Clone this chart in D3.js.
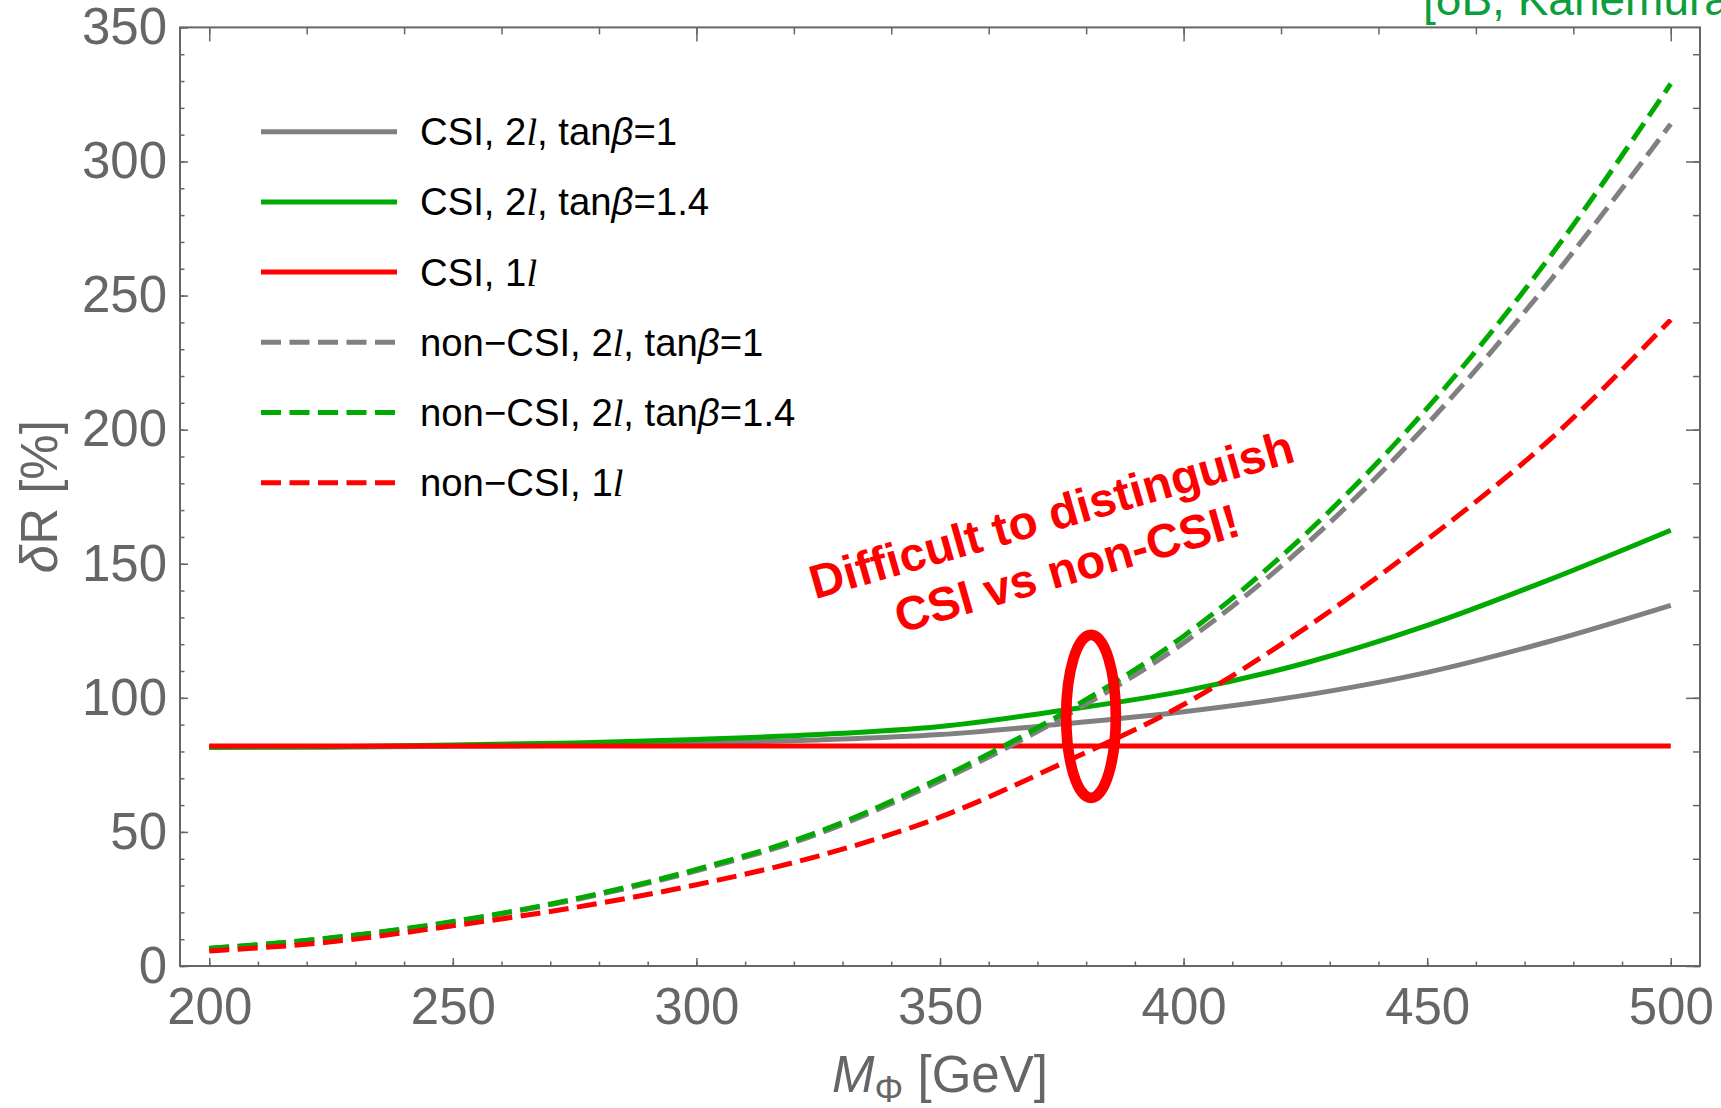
<!DOCTYPE html>
<html>
<head>
<meta charset="utf-8">
<script src="https://cdn.jsdelivr.net/npm/d3@7"></script>
<style>
  html, body { margin: 0; padding: 0; background: #fff; }
  svg { display: block; font-family: "Liberation Sans", Arial, sans-serif; }
</style>
</head>
<body>
<div id="chart"></div>
<script>
// Values: M_Phi in GeV, deltaR in %
const massGeV = [200, 225, 250, 275, 300, 325, 350, 375, 400, 425, 450, 475, 500];

const csi2lTanb1   = [81.5, 81.6, 81.9, 82.3, 83.0, 84.3, 86.3, 90.2, 94.8, 101, 109.5, 121, 134.5];
const csi2lTanb14  = [81.6, 81.8, 82.4, 83.2, 84.5, 86.3, 89.3, 95.3, 102.5, 113, 127, 144, 162.5];
const csi1l        = [82, 82, 82, 82, 82, 82, 82, 82, 82, 82, 82, 82, 82];
const nonCsi2lTanb1  = [6.5, 10.4, 16.4, 24.7, 35.5, 49.3, 69, 92.5, 120.5, 157, 202, 255, 314];
const nonCsi2lTanb14 = [6.6, 10.5, 16.6, 25, 36, 50, 70, 94, 123, 161, 208, 264, 329];
const nonCsi1l       = [5.6, 9.0, 15.0, 21.8, 30.3, 41, 55.5, 75.5, 97.5, 126, 159, 196, 241];

// legend labels: [text, style] pieces (0 plain, 1 italic, 2 italic serif)
const seriesLabels = [
    [["CSI, 2", 0], ["l", 2], [", tan", 0], ["β", 1], ["=1", 0]],
    [["CSI, 2", 0], ["l", 2], [", tan", 0], ["β", 1], ["=1.4", 0]],
    [["CSI, 1", 0], ["l", 2]],
    [["non\u2212CSI, 2", 0], ["l", 2], [", tan", 0], ["β", 1], ["=1", 0]],
    [["non\u2212CSI, 2", 0], ["l", 2], [", tan", 0], ["β", 1], ["=1.4", 0]],
    [["non\u2212CSI, 1", 0], ["l", 2]]
];

const xTicksMajor = [200, 250, 300, 350, 400, 450, 500];
const yTicksMajor = [0, 50, 100, 150, 200, 250, 300, 350];

const series = [
    { values: csi2lTanb1, color: "#808080", dashed: false },
    { values: csi2lTanb14, color: "#00aa00", dashed: false },
    { values: csi1l, color: "#ff0000", dashed: false },
    { values: nonCsi2lTanb1, color: "#808080", dashed: true },
    { values: nonCsi2lTanb14, color: "#00aa00", dashed: true },
    { values: nonCsi1l, color: "#ff0000", dashed: true }
];

const width = 1721, height = 1108;
const margin = { top: 27.4, right: 21, bottom: 142, left: 180 };
const axisColor = "#666666";
const dash = "20,8.5";

const svg = d3.select("#chart").append("svg")
    .attr("width", width)
    .attr("height", height);

const x = d3.scaleLinear().domain([194, 506]).range([margin.left, width - margin.right]);
const y = d3.scaleLinear().domain([0, 350]).range([height - margin.bottom, margin.top]);

// ticks (all inward, Mathematica style)
function styleAxis(g, fontSize) {
    g.select(".domain").remove();
    g.selectAll(".tick line").attr("stroke", axisColor).attr("stroke-width", 1.5);
    g.selectAll(".tick text")
        .attr("fill", axisColor)
        .style("font-family", "'Liberation Sans', Arial, sans-serif")
        .style("font-size", fontSize + "px");
}

const yBottom = height - margin.bottom;
const xRight = width - margin.right;

svg.append("g").attr("transform", "translate(0," + yBottom + ")")
    .call(d3.axisBottom(x).tickValues(d3.range(200, 501, 10)).tickSize(-4.5).tickFormat(""))
    .call(g => styleAxis(g, 51));
svg.append("g").attr("transform", "translate(0," + yBottom + ")")
    .call(d3.axisBottom(x).tickValues(xTicksMajor).tickSize(-8).tickPadding(22).tickFormat(d3.format("d")))
    .call(g => styleAxis(g, 51));

svg.append("g").attr("transform", "translate(" + margin.left + ",0)")
    .call(d3.axisLeft(y).tickValues(d3.range(0, 351, 10)).tickSize(-4.5).tickFormat(""))
    .call(g => styleAxis(g, 51));
svg.append("g").attr("transform", "translate(" + margin.left + ",0)")
    .call(d3.axisLeft(y).tickValues(yTicksMajor).tickSize(-8).tickPadding(13).tickFormat(d3.format("d")))
    .call(g => styleAxis(g, 51));

svg.append("g").attr("transform", "translate(0," + margin.top + ")")
    .call(d3.axisTop(x).tickValues(d3.range(200, 501, 20)).tickSize(-7).tickFormat(""))
    .call(g => styleAxis(g, 51));
svg.append("g").attr("transform", "translate(0," + margin.top + ")")
    .call(d3.axisTop(x).tickValues([200, 300, 400, 500]).tickSize(-14).tickFormat(""))
    .call(g => styleAxis(g, 51));

svg.append("g").attr("transform", "translate(" + xRight + ",0)")
    .call(d3.axisRight(y).tickValues(d3.range(0, 351, 20)).tickSize(-7).tickFormat(""))
    .call(g => styleAxis(g, 51));
svg.append("g").attr("transform", "translate(" + xRight + ",0)")
    .call(d3.axisRight(y).tickValues([0, 100, 200, 300]).tickSize(-14).tickFormat(""))
    .call(g => styleAxis(g, 51));

// frame
svg.append("rect")
    .attr("x", margin.left)
    .attr("y", margin.top)
    .attr("width", xRight - margin.left)
    .attr("height", yBottom - margin.top)
    .attr("fill", "none")
    .attr("stroke", axisColor)
    .attr("stroke-width", 2);

// curves
const line = d3.line()
    .x((d, i) => x(massGeV[i]))
    .y(d => y(d))
    .curve(d3.curveMonotoneX);

svg.append("g").selectAll("path")
    .data(series)
    .join("path")
    .attr("d", d => line(d.values))
    .attr("fill", "none")
    .attr("stroke", d => d.color)
    .attr("stroke-width", 5)
    .attr("stroke-dasharray", d => d.dashed ? dash : null);

// legend
const legend = svg.append("g");
series.forEach((s, i) => {
    const ly = 131.7 + i * 70.2;
    legend.append("line")
        .attr("x1", 261).attr("x2", 397)
        .attr("y1", ly).attr("y2", ly)
        .attr("stroke", s.color)
        .attr("stroke-width", 5)
        .attr("stroke-dasharray", s.dashed ? dash : null);
    const t = legend.append("text")
        .attr("x", 420)
        .attr("y", ly + 13.5)
        .attr("fill", "#000")
        .style("font-size", "38.3px");
    seriesLabels[i].forEach(([str, kind]) => {
        const ts = t.append("tspan").text(str);
        if (kind === 1) ts.style("font-style", "italic");
        if (kind === 2) ts.style("font-style", "italic").style("font-family", "'Liberation Serif', serif");
    });
});

// axis titles
const xTitle = svg.append("text")
    .attr("x", x(350))
    .attr("y", 1092)
    .attr("text-anchor", "middle")
    .attr("fill", axisColor)
    .style("font-size", "51px");
xTitle.append("tspan").text("M").style("font-style", "italic");
xTitle.append("tspan").text("Φ").style("font-size", "36px").attr("dy", 10);
xTitle.append("tspan").text(" [GeV]").attr("dy", -10);

const yTitle = svg.append("text")
    .attr("transform", "translate(57," + y(175) + ") rotate(-90)")
    .attr("text-anchor", "middle")
    .attr("fill", axisColor)
    .style("font-size", "51px");
yTitle.append("tspan").text("δ").style("font-style", "italic");
yTitle.append("tspan").text("R [%]");

// annotation
const note = svg.append("text")
    .attr("transform", "translate(" + x(373.8) + "," + y(162.5) + ") rotate(-16)")
    .attr("text-anchor", "middle")
    .attr("fill", "#ff0000")
    .style("font-weight", "bold")
    .style("font-size", "47.5px");
note.append("tspan").attr("x", 0).attr("dy", 0).text("Difficult to distinguish");
note.append("tspan").attr("x", 0).attr("dy", 56).text("CSI vs non-CSI!");

svg.append("ellipse")
    .attr("cx", x(381))
    .attr("cy", y(93.1))
    .attr("rx", x(386.1) - x(381))
    .attr("ry", y(93.1) - y(123.5))
    .attr("fill", "none")
    .attr("stroke", "#ff0000")
    .attr("stroke-width", 10.7);

// reference tag, cut by the top edge as in the original
svg.append("text")
    .attr("x", 1423)
    .attr("y", 15)
    .attr("fill", "#0a9e3c")
    .style("font-size", "46px")
    .text("[δB, Kanemura");
</script>
</body>
</html>
